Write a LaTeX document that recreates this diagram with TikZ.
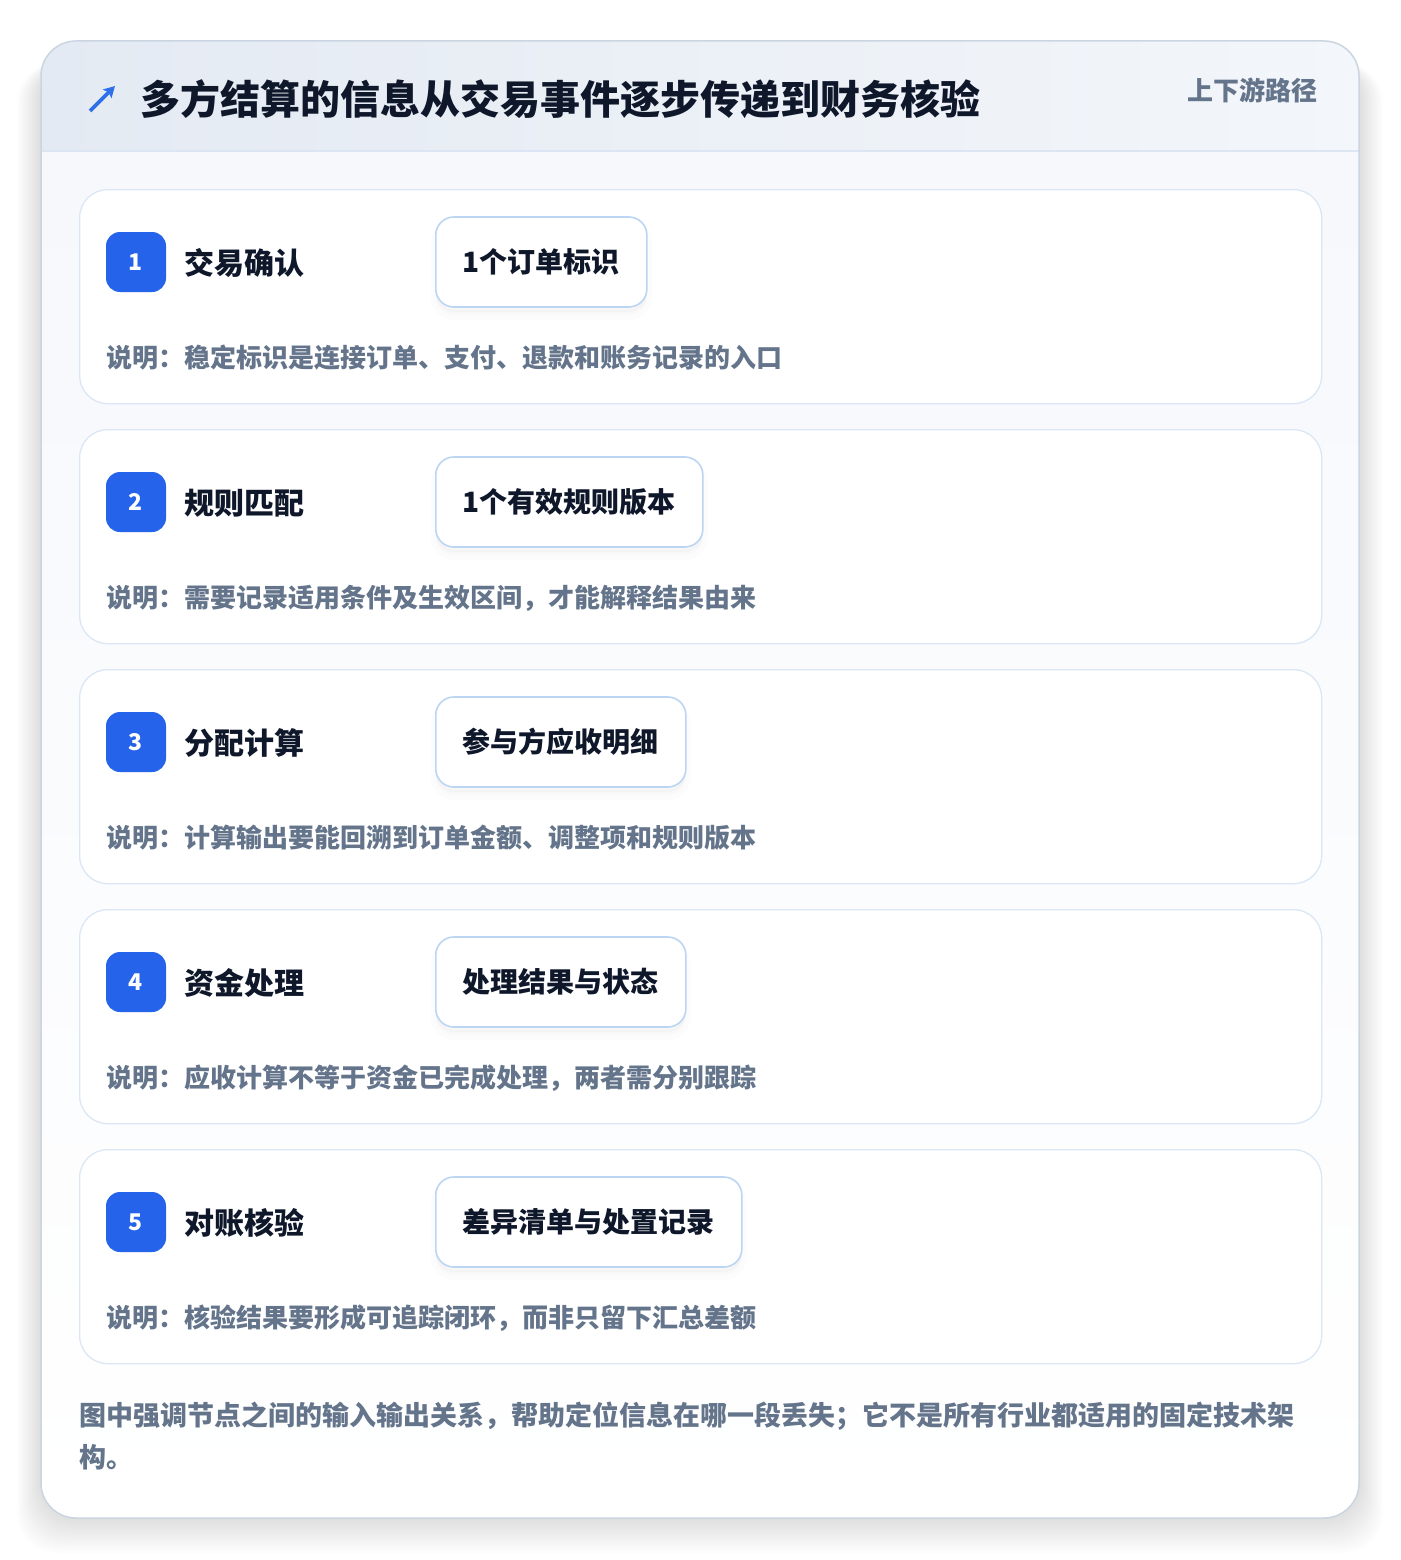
\documentclass[tikz,border=0pt]{standalone}
\usepackage{fontspec}
\setmainfont{Noto Sans CJK SC}
\usepackage{tikz}
\usetikzlibrary{positioning,arrows.meta}

\definecolor{titleink}{HTML}{0F172A}
\definecolor{mutedink}{HTML}{64748B}
\definecolor{badgeblue}{HTML}{2563EB}
\definecolor{iconblue}{HTML}{2F6FE8}
\definecolor{cardline}{HTML}{DBE7F6}
\definecolor{outline}{HTML}{BCD5F3}
\definecolor{headleft}{HTML}{E4EAF3}
\definecolor{headright}{HTML}{F3F6FA}
\definecolor{bodytop}{HTML}{F6F8FC}
\definecolor{cardedge}{HTML}{CBD5E1}
\definecolor{headline}{HTML}{DBE5F3}

\tikzset{
	stepcard/.style={draw=cardline,fill=white,line width=1.3pt,rounded corners=28pt,
		minimum width=1242pt,minimum height=214pt,anchor=north west,inner sep=0},
	badge/.style={fill=badgeblue,rounded corners=14pt,minimum size=60pt,inner sep=0,
		text=white,font=\fontsize{23}{23}\selectfont\bfseries},
	steptitle/.style={anchor=west,inner sep=0,text=titleink,font=\fontsize{30}{30}\selectfont\bfseries},
	outbox/.style={draw=outline,fill=white,line width=1.6pt,rounded corners=18pt,
		minimum height=90pt,inner xsep=27pt,anchor=west,text=titleink,
		font=\fontsize{28}{28}\selectfont\bfseries,
		preaction={draw=black,fill=black,line width=10pt,opacity=.012,transform canvas={yshift=-8pt}},
		preaction={fill=black,opacity=.02,transform canvas={yshift=-5pt}}},
	note/.style={anchor=west,inner sep=0,text=mutedink,font=\fontsize{26}{26}\selectfont\bfseries}
}

\begin{document}
\begin{tikzpicture}[x=1pt,y=-1pt]
	\useasboundingbox[fill=white] (0,0) rectangle (1400,1560);
	% soft shadow of the panel
	\foreach \i in {1,...,16}
	\fill[black,opacity=.006,rounded corners=40pt] ({41-1.5*\i},{60+0.2*\i}) rectangle ({1359+1.5*\i},{1518+2.2*\i});
	% panel
	\begin{scope}
		\clip[rounded corners=35pt] (41,41) rectangle (1359,1518);
		\shade[top color=bodytop,bottom color=white] (41,151) rectangle (1359,1518);
		\shade[left color=headleft,right color=headright] (41,41) rectangle (1359,151);
		\draw[headline,line width=1.5pt] (41,151) -- (1359,151);
	\end{scope}
	\draw[cardedge,line width=1.5pt,rounded corners=35pt] (41,41) rectangle (1359,1518);
	% header
	\coordinate (icontail) at (90,111);
	\coordinate (iconhead) at (115,86);
	\draw[iconblue,line width=3.6pt,-{Stealth[length=11pt,width=12pt,inset=2pt]}] (icontail) -- (iconhead);
	\node[anchor=west,inner sep=0,text=titleink,font=\fontsize{40}{40}\selectfont\bfseries] (heading) at (140,99) {多方结算的信息从交易事件逐步传递到财务核验};
	\node[anchor=east,inner sep=0,text=mutedink,font=\fontsize{26}{26}\selectfont\bfseries] (tag) at (1318,90) {上下游路径};
	% steps
	\foreach \n/\name/\out/\desc in {
		1/交易确认/1个订单标识/说明：稳定标识是连接订单、支付、退款和账务记录的入口,
		2/规则匹配/1个有效规则版本/说明：需要记录适用条件及生效区间，才能解释结果由来,
		3/分配计算/参与方应收明细/说明：计算输出要能回溯到订单金额、调整项和规则版本,
		4/资金处理/处理结果与状态/说明：应收计算不等于资金已完成处理，两者需分别跟踪,
		5/对账核验/差异清单与处置记录/说明：核验结果要形成可追踪闭环，而非只留下汇总差额}
	{
		\pgfmathsetmacro\top{189+240*(\n-1)}
		\node[stepcard] (card\n) at (79,\top) {};
		\node[badge] (badge\n) at (136,{\top+73}) {\n};
		\node[steptitle] (title\n) at (184,{\top+74}) {\name};
		\node[outbox] (out\n) at (435,{\top+73}) {\out};
		\node[note] (desc\n) at (106,{\top+169}) {\desc};
	}
	% closing remark
	\node[anchor=west,inner sep=0,align=left,text=mutedink,font=\fontsize{27}{42}\selectfont\bfseries] (remark) at (79,1436)
	{图中强调节点之间的输入输出关系，帮助定位信息在哪一段丢失；它不是所有行业都适用的固定技术架\\构。};
\end{tikzpicture}
\end{document}
